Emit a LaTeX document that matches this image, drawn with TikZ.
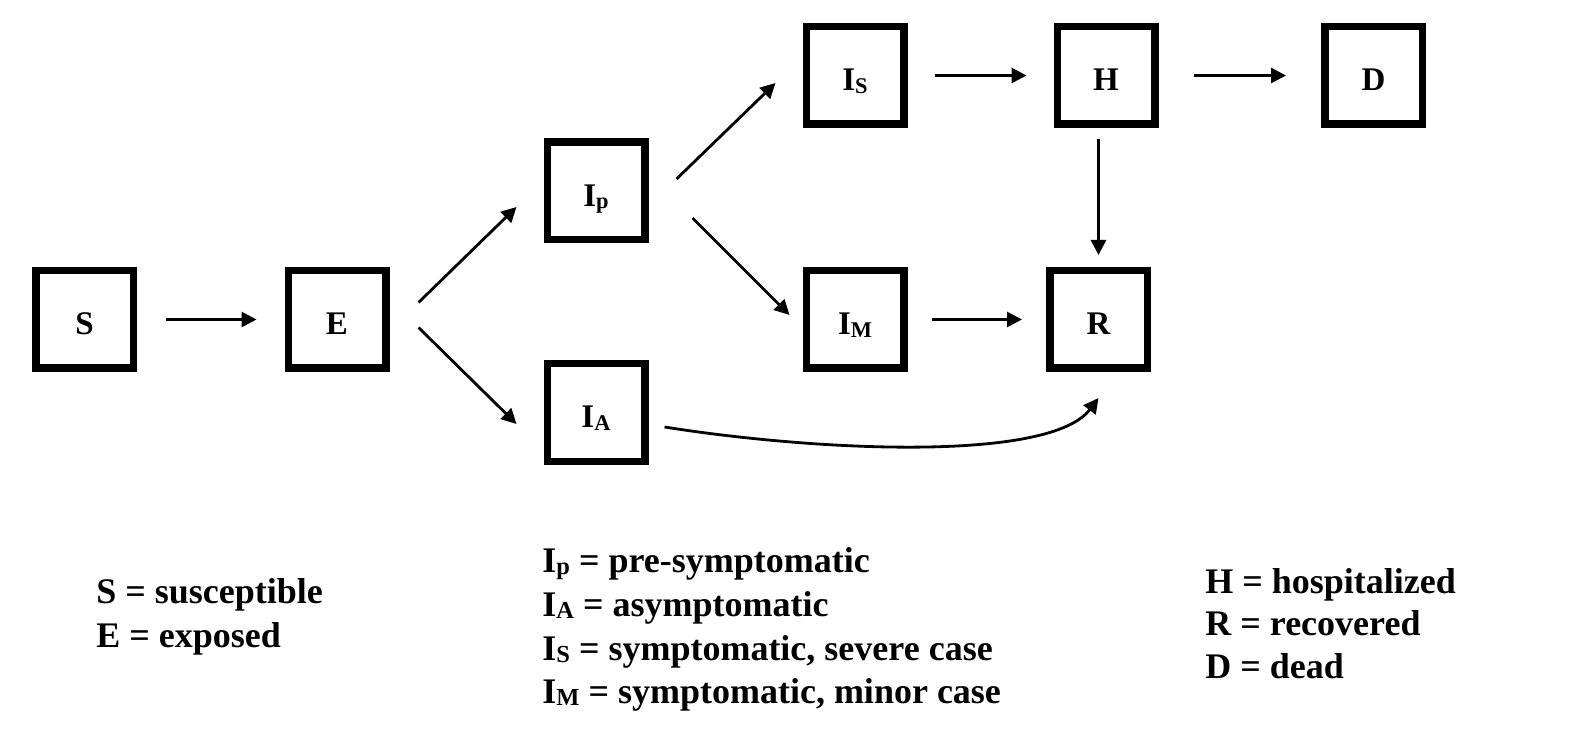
\documentclass[tikz,border=0pt]{standalone}
\usepackage{fontspec}
\setmainfont{Liberation Serif}
\usetikzlibrary{arrows.meta,calc}
\newcommand{\lowsub}[1]{\raisebox{-0.07em}{\scalebox{0.68}{#1}}}
\tikzset{
  box/.style={draw=black, line width=3.75pt, minimum size=48.75pt, inner sep=0pt, text height=15.5pt, text depth=0pt, font=\fontsize{16.5}{19}\selectfont\bfseries},
  arr/.style={line width=1.4pt, -{Triangle[length=7.5pt,width=7.5pt]}},
  legend/.style={anchor=base west, inner sep=0pt, font=\fontsize{18}{22}\selectfont\bfseries},
}
\begin{document}
\begin{tikzpicture}[x=0.5pt,y=0.5pt]
\useasboundingbox (0,0) rectangle (1584,-737);
% boxes
\node[box] (S)  at (84.5,-319.5) {S};
\node[box] (E)  at (337,-319.5)  {E};
\node[box] (Ip) at (596,-191)    {I\lowsub{p}};
\node[box] (IA) at (596,-412.5)  {I\lowsub{A}};
\node[box] (IS) at (855,-75.5)   {I\lowsub{S}};
\node[box] (IM) at (855,-319.5)  {I\lowsub{M}};
\node[box] (H)  at (1106,-75.5)  {H};
\node[box] (R)  at (1098.5,-319.5) {R};
\node[box] (D)  at (1373.5,-75.5) {D};
% arrows
\draw[arr] ([xshift=14.5pt]S.east) -- ([xshift=-14pt]E.west);
\draw[arr] ([shift={(14.5pt,8.5pt)}]E.east) -- ([shift={(-13.5pt,-8pt)}]Ip.west);
\draw[arr] ([shift={(14.5pt,-4pt)}]E.east) -- ([shift={(-13.5pt,-5.75pt)}]IA.west);
\draw[arr] ([shift={(14pt,6pt)}]Ip.east) -- ([shift={(-13.5pt,-3.75pt)}]IS.west);
\draw[arr] ([shift={(22pt,-13.5pt)}]Ip.east) -- ([shift={(-6.5pt,2.25pt)}]IM.west);
\draw[arr] ([xshift=13.5pt]IS.east) -- ([xshift=-13.5pt]H.west);
\draw[arr] ([xshift=17.5pt]H.east) -- ([xshift=-17.5pt]D.west);
\draw[arr] ([xshift=12pt]IM.east) -- ([xshift=-12pt]R.west);
\draw[arr] ($(H.south -| R.north)+(0,-5.5pt)$) -- ([yshift=6pt]R.north);
\draw[arr] ([shift={(8pt,-7.25pt)}]IA.east) to[out=-9, in=-127, out distance=78.5pt, in distance=40pt] ([yshift=-13pt]R.south);
% legends
\node[legend] (l1) at (96,-603) {S = susceptible};
\node[legend] (l2) at (96,-647) {E = exposed};
\node[legend] (m1) at (542,-572) {I\lowsub{p} = pre-symptomatic};
\node[legend] (m2) at (542,-616) {I\lowsub{A} = asymptomatic};
\node[legend] (m3) at (542,-660) {I\lowsub{S} = symptomatic, severe case};
\node[legend] (m4) at (542,-703) {I\lowsub{M} = symptomatic, minor case};
\node[legend] (r1) at (1205,-593) {H = hospitalized};
\node[legend] (r2) at (1205,-635) {R = recovered};
\node[legend] (r3) at (1205,-678) {D = dead};
\end{tikzpicture}
\end{document}
